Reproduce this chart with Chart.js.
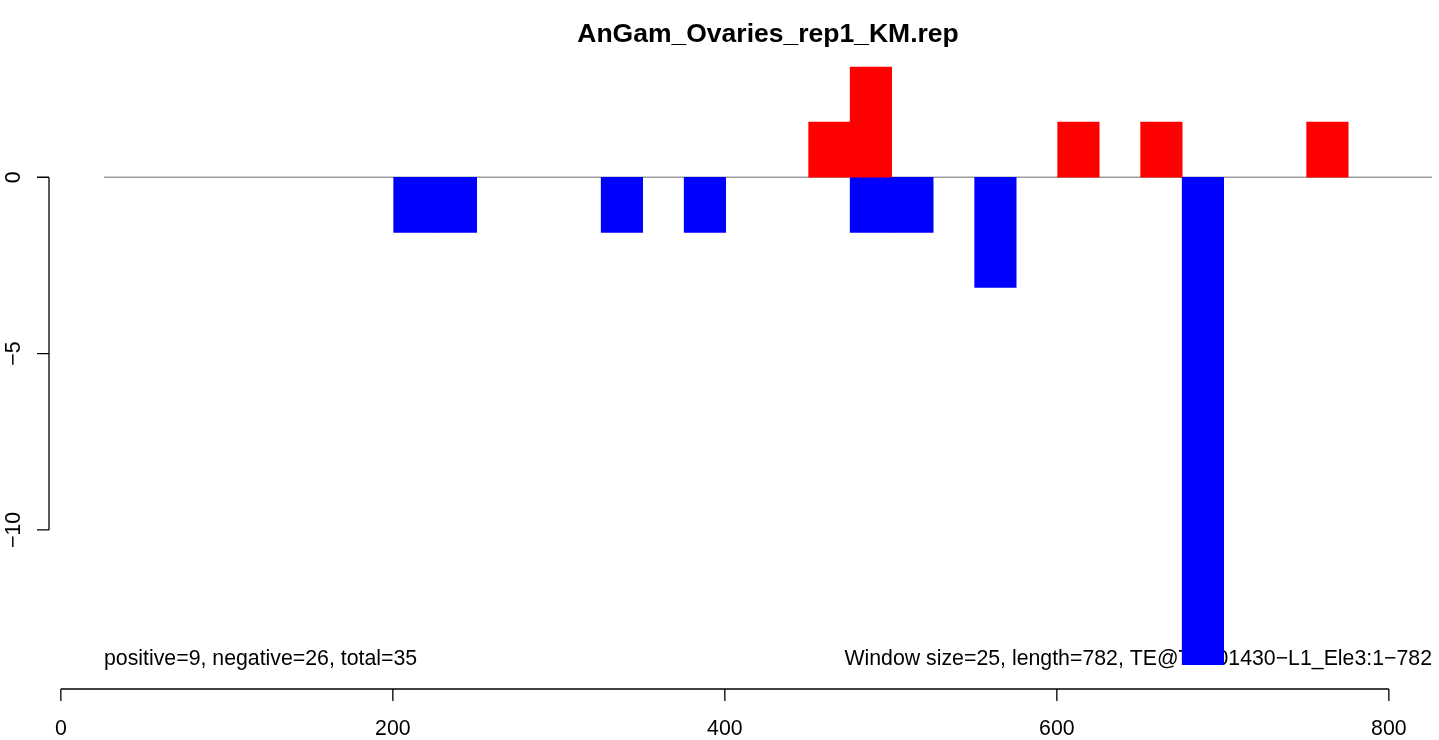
<!DOCTYPE html>
<html>
<head>
<meta charset="utf-8">
<script src="https://cdn.jsdelivr.net/npm/chart.js@4/dist/chart.umd.min.js"></script>
<style>
  html, body { margin: 0; padding: 0; background: #ffffff; }
  #wrap { width: 1439px; height: 740px; position: relative; }
</style>
</head>
<body>
<div id="wrap"><canvas id="c" width="1439" height="740"></canvas></div>
<script>
// ---- data ----
const title = "AnGam_Ovaries_rep1_KM.rep";
const leftNote = "positive=9, negative=26, total=35";
const rightNote = "Window size=25, length=782, TE@TF001430\u2212L1_Ele3:1\u2212782";
const windowSize = 25;
const windowStarts = [1, 26, 51, 76, 101, 126, 151, 176, 201, 226, 251, 276, 301, 326, 351, 376,
                      401, 426, 451, 476, 501, 526, 551, 576, 601, 626, 651, 676, 701, 726, 751, 776];
const positiveValues = [null, null, null, null, null, null, null, null, null, null, null, null, null, null, null, null,
                        null, null, 1.5625, 3.125, null, null, null, null, 1.5625, null, 1.5625, null, null, null, 1.5625, null];
const negativeValues = [null, null, null, null, null, null, null, null, -1.5625, -1.5625, null, null, null, -1.5625, null, -1.5625,
                        null, null, null, -1.5625, -1.5625, null, -3.125, null, null, null, null, -14.0625, null, null, null, null];
const xTicks = [0, 200, 400, 600, 800];
const yTicks = [0, -5, -10];
const xRange = [26, 826];
const yRange = [-13.83, 3.41];

const centers = windowStarts.map(s => s + (windowSize - 1) / 2);
const posData = centers.map((x, i) => ({ x: x, y: positiveValues[i] }));
const negData = centers.map((x, i) => ({ x: x, y: negativeValues[i] }));

const FONT = "'Liberation Sans', Arial, Helvetica, sans-serif";
const FS = 21.3;

const rPlot = {
  id: 'rPlot',
  beforeDatasetsDraw(chart) {
    const ctx = chart.ctx;
    const ca = chart.chartArea;
    const ys = chart.scales.y;
    ctx.save();
    // zero reference line
    ctx.strokeStyle = '#9e9e9e';
    ctx.lineWidth = 1.3;
    const y0 = ys.getPixelForValue(0);
    ctx.beginPath();
    ctx.moveTo(ca.left, y0);
    ctx.lineTo(ca.right, y0);
    ctx.stroke();
    // bottom notes
    ctx.fillStyle = '#000';
    ctx.font = FS + 'px ' + FONT;
    ctx.textBaseline = 'alphabetic';
    ctx.textAlign = 'left';
    ctx.fillText(leftNote, ca.left, 665);
    ctx.textAlign = 'right';
    ctx.fillText(rightNote, ca.right, 665);
    ctx.restore();
  },
  afterDraw(chart) {
    const ctx = chart.ctx;
    const ca = chart.chartArea;
    const xs = chart.scales.x;
    const ys = chart.scales.y;
    ctx.save();
    ctx.strokeStyle = '#000';
    ctx.fillStyle = '#000';
    ctx.lineWidth = 1.3;
    // title
    ctx.font = 'bold 26.5px ' + FONT;
    ctx.textAlign = 'center';
    ctx.textBaseline = 'middle';
    ctx.fillText(title, (ca.left + ca.right) / 2, 34.5);
    // x axis
    const axY = 689;
    ctx.beginPath();
    ctx.moveTo(xs.getPixelForValue(xTicks[0]), axY);
    ctx.lineTo(xs.getPixelForValue(xTicks[xTicks.length - 1]), axY);
    xTicks.forEach(t => {
      const px = xs.getPixelForValue(t);
      ctx.moveTo(px, axY);
      ctx.lineTo(px, axY + 12);
    });
    ctx.stroke();
    ctx.font = FS + 'px ' + FONT;
    ctx.textAlign = 'center';
    ctx.textBaseline = 'middle';
    xTicks.forEach(t => {
      ctx.fillText(String(t), xs.getPixelForValue(t), 729);
    });
    // y axis
    const axX = 49;
    ctx.beginPath();
    ctx.moveTo(axX, ys.getPixelForValue(yTicks[0]));
    ctx.lineTo(axX, ys.getPixelForValue(yTicks[yTicks.length - 1]));
    yTicks.forEach(t => {
      const py = ys.getPixelForValue(t);
      ctx.moveTo(axX, py);
      ctx.lineTo(axX - 12, py);
    });
    ctx.stroke();
    yTicks.forEach(t => {
      const py = ys.getPixelForValue(t);
      ctx.save();
      ctx.translate(14, py);
      ctx.rotate(-Math.PI / 2);
      ctx.textAlign = 'center';
      ctx.textBaseline = 'middle';
      ctx.fillText(t < 0 ? '\u2212' + Math.abs(t) : String(t), 0, 0);
      ctx.restore();
    });
    ctx.restore();
  }
};

new Chart(document.getElementById('c'), {
  type: 'bar',
  data: {
    datasets: [
      { label: 'positive', data: posData, backgroundColor: '#ff0000', borderWidth: 0,
        categoryPercentage: 1, barPercentage: 1, grouped: false },
      { label: 'negative', data: negData, backgroundColor: '#0000ff', borderWidth: 0,
        categoryPercentage: 1, barPercentage: 1, grouped: false }
    ]
  },
  options: {
    responsive: false,
    animation: false,
    layout: { padding: { left: 104, right: 7, top: 57, bottom: 75 } },
    plugins: { legend: { display: false }, tooltip: { enabled: false }, title: { display: false } },
    scales: {
      x: { type: 'linear', display: false, offset: false, min: xRange[0], max: xRange[1] },
      y: { type: 'linear', display: false, min: yRange[0], max: yRange[1] }
    }
  },
  plugins: [rPlot]
});
</script>
</body>
</html>
